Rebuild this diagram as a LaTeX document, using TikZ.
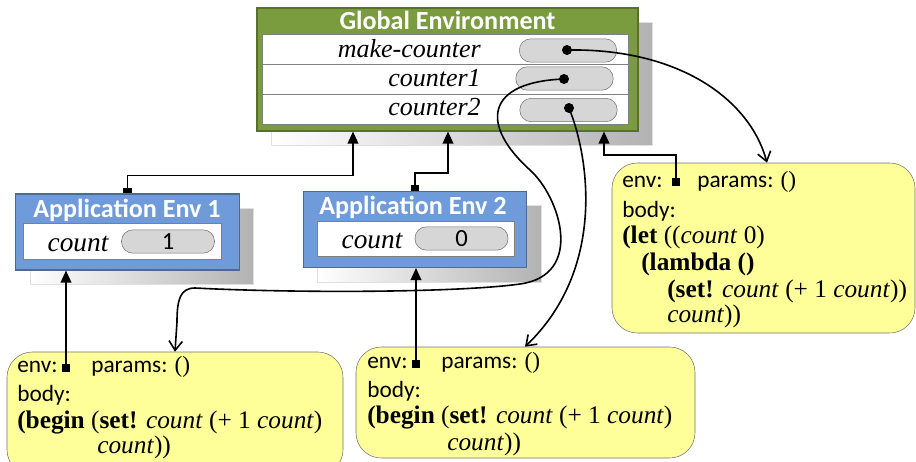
\documentclass[tikz,border=0pt]{standalone}
\usepackage{fontspec}
\setmainfont{Liberation Serif}
\setsansfont{Carlito}
\usetikzlibrary{arrows.meta}

\definecolor{envgreen}{RGB}{122,155,62}
\definecolor{greenedge}{RGB}{88,112,44}
\definecolor{envblue}{RGB}{111,155,218}
\definecolor{blueedge}{RGB}{80,105,145}
\definecolor{procyellow}{RGB}{255,255,153}

\begin{document}
\begin{tikzpicture}[x=0.75pt, y=-0.75pt,
    shadow_box/.style={left color=white, right color=black!30, draw=black!12},
    title_text/.style={font=\sffamily\bfseries\fontsize{19.6pt}{22pt}\selectfont, text=white, inner sep=0pt},
    var_name/.style={font=\itshape\fontsize{19.5pt}{23pt}\selectfont, anchor=base east, inner sep=0pt},
    slot_box/.style={draw=black!55, fill=black!16, rounded corners=8.5pt, minimum width=73pt,
        minimum height=17.5pt, inner sep=0pt, font=\sffamily\fontsize{18.5pt}{20pt}\selectfont},
    val_dot/.style={circle, fill=black, inner sep=0pt, minimum size=7.5pt},
    env_sq/.style={fill=black, inner sep=0pt, minimum size=5.5pt},
    app_box/.style={fill=envblue, draw=blueedge, line width=0.8pt, minimum width=167.5pt, minimum height=57pt},
    proc_box/.style={draw=black!55, fill=procyellow, rounded corners=19pt, inner sep=0pt},
    sans_text/.style={font=\sffamily\fontsize{17.5pt}{20pt}\selectfont, anchor=base west, inner sep=0pt},
    code_text/.style={font=\fontsize{19pt}{23pt}\selectfont, anchor=base west, inner sep=0pt},
    env_ptr/.style={line width=1.2pt, -{Triangle[length=9pt,width=8pt]}},
    proc_ptr/.style={line width=1.2pt, -{Straight Barb[length=7pt,width=10pt]}}]

    \useasboundingbox (0,0) rectangle (916,461);
    \clip (0,0) rectangle (916,461);

    % global environment
    \shadedraw[shadow_box] (271,22) rectangle (652,145);
    \node[fill=envgreen, draw=greenedge, line width=0.8pt, minimum width=285.75pt, minimum height=92.25pt] (global) at (447.5,69.5) {};
    \node[title_text] (gtitle) at (447.5,20) {Global Environment};
    \draw[fill=white, draw=black!50] (262,34) rectangle (628,124);
    \draw[black!50] (262,64) -- (628,64) (262,94) -- (628,94);
    \node[var_name] (n1) at (481,57) {make-counter};
    \node[var_name] (n2) at (481,86) {counter1};
    \node[var_name] (n3) at (481,115) {counter2};
    \node[slot_box] (s1) at (568,50.5) {};
    \node[slot_box] (s2) at (564.5,78.5) {};
    \node[slot_box] (s3) at (568.5,110) {};
    \node[val_dot] (d1) at (567,50) {};
    \node[val_dot] (d2) at (564,79) {};
    \node[val_dot] (d3) at (569,108) {};

    % application environments
    \shadedraw[shadow_box] (30,208) rectangle (253,284);
    \node[app_box] (app1) at (127.5,232) {};
    \node[title_text] (t1) at (127,210) {Application Env 1};
    \draw[fill=white, draw=black!50] (23,223) rectangle (221,259);
    \node[var_name, font=\itshape\fontsize{20.5pt}{24pt}\selectfont, anchor=base] (c1) at (78,251) {count};
    \node[slot_box, minimum width=69.75pt] (v1) at (168,241.5) {1};

    \shadedraw[shadow_box] (317,205) rectangle (541,282);
    \node[app_box] (app2) at (415,229.5) {};
    \node[title_text] (t2) at (413,207) {Application Env 2};
    \draw[fill=white, draw=black!50] (317,221) rectangle (514,256);
    \node[var_name, font=\itshape\fontsize{20.5pt}{24pt}\selectfont, anchor=base] (c2) at (372,248) {count};
    \node[slot_box, minimum width=69.75pt] (v2) at (461.5,238.5) {0};

    \node[env_sq, minimum width=6.5pt, minimum height=4pt, anchor=south] (p1) at (app1.north) {};
    \node[env_sq, minimum width=6.5pt, minimum height=4pt, anchor=south] (p2) at (app2.north) {};

    % procedures
    \node[proc_box, minimum width=227.25pt, minimum height=127.5pt] (procR) at (763.5,248) {};
    \node[sans_text] (rEnv) at (622,187) {env:};
    \node[env_sq] (pR) at (676,182) {};
    \node[sans_text] (rPar) at (697,187) {params: {\rmfamily ()}};
    \node[sans_text] (rBody) at (622,217) {body:};
    \node[code_text] (r1) at (622,243) {\textbf{(let} ((\textit{count} 0)};
    \node[code_text] (r2) at (641,270) {\textbf{(lambda ()}};
    \node[code_text] (r3) at (667,297) {\textbf{(set!} \textit{count} (+ 1 \textit{count}))};
    \node[code_text] (r4) at (667,322) {\textit{count}))};

    \node[proc_box, minimum width=252pt, minimum height=92.25pt] (procA) at (175,413.5) {};
    \node[sans_text] (aEnv) at (17,372) {env:};
    \node[env_sq] (pA) at (66,368) {};
    \node[sans_text] (aPar) at (91,372) {params: {\rmfamily ()}};
    \node[sans_text] (aBody) at (17,401) {body:};
    \node[code_text] (a1) at (17,428) {\textbf{(begin} (\textbf{set!} \textit{count} (+ 1 \textit{count})};
    \node[code_text] (a2) at (97,453) {\textit{count}))};

    \node[proc_box, minimum width=254.25pt, minimum height=83.25pt] (procB) at (525.5,402.5) {};
    \node[sans_text] (bEnv) at (367,368) {env:};
    \node[env_sq] (pB) at (416,364) {};
    \node[sans_text] (bPar) at (441,368) {params: {\rmfamily ()}};
    \node[sans_text] (bBody) at (367,397) {body:};
    \node[code_text] (b1) at (367,423) {\textbf{(begin} (\textbf{set!} \textit{count} (+ 1 \textit{count})};
    \node[code_text] (b2) at (447,450) {\textit{count}))};

    % environment pointers
    \coordinate (g1) at (global.south -| 353,0);
    \coordinate (g2) at (global.south -| 448,0);
    \coordinate (g3) at (global.south -| 604,0);
    \coordinate (e1) at (app1.south -| pA);
    \coordinate (e2) at (app2.south -| pB);
    \draw[env_ptr] (p1.north) -- ++(0,-12) -| (g1);
    \draw[env_ptr] (p2.north) -- ++(0,-12) -| (g2);
    \draw[env_ptr] (pR.center) -- ++(0,-27) -| (g3);
    \draw[env_ptr] (pA.center) -- (e1);
    \draw[env_ptr] (pB.center) -- (e2);

    % procedure pointers
    \coordinate (mR) at (procR.north -| 767,0);
    \coordinate (mA) at (procA.north -| 175,0);
    \coordinate (mB) at (procB.north -| 525,0);
    \draw[proc_ptr] (d1.center) .. controls (680,48) and (750,100) .. (mR);
    \draw[proc_ptr] (d2.center) .. controls (485,82) and (480,125) .. (530,170)
        .. controls (560,197) and (585,275) .. (520,284)
        .. controls (455,293) and (290,293) .. (195,288)
        .. controls (180,288) and (177,300) .. (177,322) -- (mA);
    \draw[proc_ptr] (d3.center) .. controls (590,160) and (605,270) .. (mB);
\end{tikzpicture}
\end{document}
